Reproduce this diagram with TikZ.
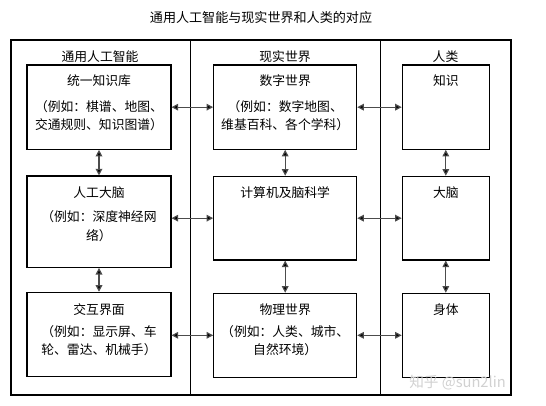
\documentclass[tikz,border=0pt]{standalone}
\usepackage{fontspec}
\setmainfont{Noto Sans CJK SC}
\usetikzlibrary{arrows.meta}
\tikzset{
  box/.style={draw, line width=0.8pt, inner sep=0pt},
  lbox/.style={box, minimum width=108pt},
  mbox/.style={box, minimum width=107.25pt},
  rbox/.style={box, minimum width=65.25pt},
  ttl/.style={font=\fontsize{9.6pt}{13.9pt}\selectfont, inner sep=0pt},
  desc/.style={font=\fontsize{9.6pt}{13.9pt}\selectfont, inner sep=0pt, align=center},
  link/.style={line width=0.9pt, draw=black!70, {Triangle[length=5pt,width=5pt,fill=black]}-{Triangle[length=5pt,width=5pt,fill=black]}},
  frame/.style={line width=0.8pt}
}
\begin{document}
\begin{tikzpicture}[x=0.75pt,y=-0.75pt]
\useasboundingbox (0,0) rectangle (546,405);
% title
\node[font=\fontsize{9.8pt}{12pt}\selectfont, inner sep=0pt] (title) at (261,17.5) {通用人工智能与现实世界和人类的对应};
% frame
\draw[frame] (11,40) rectangle (511,395);
\draw[frame] (190.7,40) -- (190.7,395);
\draw[frame] (380.3,40) -- (380.3,395);
% column headers
\node[ttl] (h1) at (100,56.7) {通用人工智能};
\node[ttl] (h2) at (285,56.7) {现实世界};
\node[ttl] (h3) at (445.5,56.7) {人类};
% boxes
\node[lbox, minimum height=63.2pt] (L1) at (99,107.15) {};
\node[lbox, minimum height=68.5pt] (L2) at (99,221.65) {};
\node[lbox, minimum height=63.3pt] (L3) at (99,334.5) {};
\node[mbox, minimum height=63.2pt] (M1) at (285.2,107.15) {};
\node[mbox, minimum height=62.8pt] (M2) at (285.2,218.15) {};
\node[mbox, minimum height=63pt] (M3) at (285.2,335.3) {};
\node[rbox, minimum height=63.2pt] (R1) at (445.8,107.15) {};
\node[rbox, minimum height=62.8pt] (R2) at (445.8,218.15) {};
\node[rbox, minimum height=63pt] (R3) at (445.8,335.3) {};
% texts
\node[ttl] (L1t) at (99,81) {统一知识库};
\node[desc] (L1d) at (99,115.5) {（例如：棋谱、地图、\\交通规则、知识图谱）};
\node[ttl] (L2t) at (99,192.7) {人工大脑};
\node[desc] (L2d) at (99,226.2) {（例如：深度神经网\\络）};
\node[ttl] (L3t) at (99,309.3) {交互界面};
\node[desc] (L3d) at (99,340.5) {（例如：显示屏、车\\轮、雷达、机械手）};
\node[ttl] (M1t) at (285.2,81) {数字世界};
\node[desc] (M1d) at (285.2,115.5) {（例如：数字地图、\\维基百科、各个学科）};
\node[ttl] (M2t) at (285.2,192.7) {计算机及脑科学};
\node[ttl] (M3t) at (285.2,309.3) {物理世界};
\node[desc] (M3d) at (285.2,340.8) {（例如：人类、城市、\\自然环境）};
\node[ttl] (R1t) at (445.8,81) {知识};
\node[ttl] (R2t) at (445.8,192.7) {大脑};
\node[ttl] (R3t) at (445.8,309.3) {身体};
% vertical links
\draw[link] (L1.south) -- (L2.north);
\draw[link] (L2.south) -- (L3.north);
\draw[link] (M1.south) -- (M2.north);
\draw[link] (M2.south) -- (M3.north);
\draw[link] (R1.south) -- (R2.north);
\draw[link] (R2.south) -- (R3.north);
% horizontal links
\draw[link] (L1.east) -- (M1.west);
\draw[link] (M1.east) -- (R1.west);
\draw[link] (L2.east |- M2.west) -- (M2.west);
\draw[link] (M2.east) -- (R2.west);
\draw[link] (L3.east |- M3.west) -- (M3.west);
\draw[link] (M3.east) -- (R3.west);
% watermark
\node[font=\fontsize{11pt}{13pt}\selectfont, text=black!18, inner sep=0pt] (wm) at (457.5,383) {知乎 @sun2lin};
\end{tikzpicture}
\end{document}
